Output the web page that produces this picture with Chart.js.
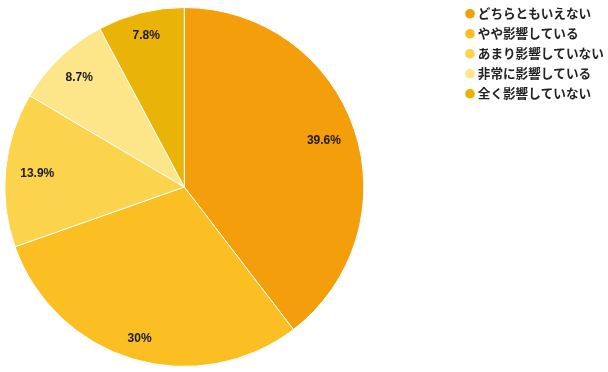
<!DOCTYPE html>
<html>
<head>
<meta charset="utf-8">
<script src="https://cdn.jsdelivr.net/npm/chart.js@4"></script>
<style>
  html,body{margin:0;padding:0;background:#fff;}
  #wrap{width:608px;height:372px;position:relative;}
</style>
</head>
<body>
<div id="wrap"><canvas id="pieChart"></canvas></div>
<script>
const LABELS = ['どちらともいえない','やや影響している','あまり影響していない','非常に影響している','全く影響していない'];
const VALUES = [39.6, 30, 13.9, 8.7, 7.8];
const VALUE_TEXT = ['39.6%','30%','13.9%','8.7%','7.8%'];
const COLORS = ['#F59E0B','#FBBF24','#FCD34D','#FDE68A','#EAB308'];

/* ── empty layout boxes, to push the pie left of the legend ── */
function spacer(position, size, weight) {
  return {
    position, weight, fullSize:false, z:0, options:{},
    isHorizontal(){ return position === 'top' || position === 'bottom'; },
    update(maxW, maxH){
      if (this.isHorizontal()) { this.width = maxW; this.height = size; }
      else { this.width = size; this.height = maxH; }
    },
    draw(){}
  };
}
const spacers = {
  id:'spacers',
  beforeInit(chart) {
    Chart.layouts.addBox(chart, spacer('right', 92.5, 0));
    Chart.layouts.addBox(chart, spacer('top', 7, 0));
    Chart.layouts.addBox(chart, spacer('bottom', 5, 0));
  }
};

/* ── in-slice percentage labels: outer edge of the text kept ~8% inside the rim ── */
const sliceLabels = {
  id:'sliceLabels',
  afterDatasetsDraw(chart) {
    const ctx = chart.ctx;
    const meta = chart.getDatasetMeta(0);
    ctx.save();
    ctx.font = 'bold 12px "Liberation Sans", Arial, sans-serif';
    ctx.fillStyle = '#1a1a1a';
    ctx.textAlign = 'center';
    ctx.textBaseline = 'middle';
    meta.data.forEach((arc, i) => {
      const p = arc.getProps(['x','y','startAngle','endAngle','outerRadius'], true);
      const mid = (p.startAngle + p.endAngle) / 2;
      const cx = Math.cos(mid), cy = Math.sin(mid);
      const w = ctx.measureText(VALUE_TEXT[i]).width;
      const r = p.outerRadius * 0.92 - (Math.abs(cx) * w / 2 + Math.abs(cy) * 5);
      ctx.fillText(VALUE_TEXT[i], p.x + cx * r, p.y + cy * r + 1);
    });
    ctx.restore();
  }
};

window.addEventListener('DOMContentLoaded', () => {
  const ctx = document.getElementById('pieChart').getContext('2d');
  new Chart(ctx, {
    type:'pie',
    data:{
      labels: LABELS,
      datasets:[{ data:VALUES, backgroundColor:COLORS, borderColor:'#ffffff', borderWidth:1 }]
    },
    options:{
      responsive:true, maintainAspectRatio:false, animation:false,
      layout:{ padding:0 },
      plugins:{
        legend:{
          display:true, position:'right', align:'start', maxWidth:146.9,
          labels:{ usePointStyle:true, pointStyle:'circle', boxWidth:3, boxHeight:7.5, padding:7.4,
                   color:'#222', font:{ family:'"Noto Sans CJK JP", sans-serif', size:12.6, weight:'bold', lineHeight:1.11 } }
        },
        tooltip:{ enabled:false }
      }
    },
    plugins:[spacers, sliceLabels]
  });
});
</script>
</body>
</html>
